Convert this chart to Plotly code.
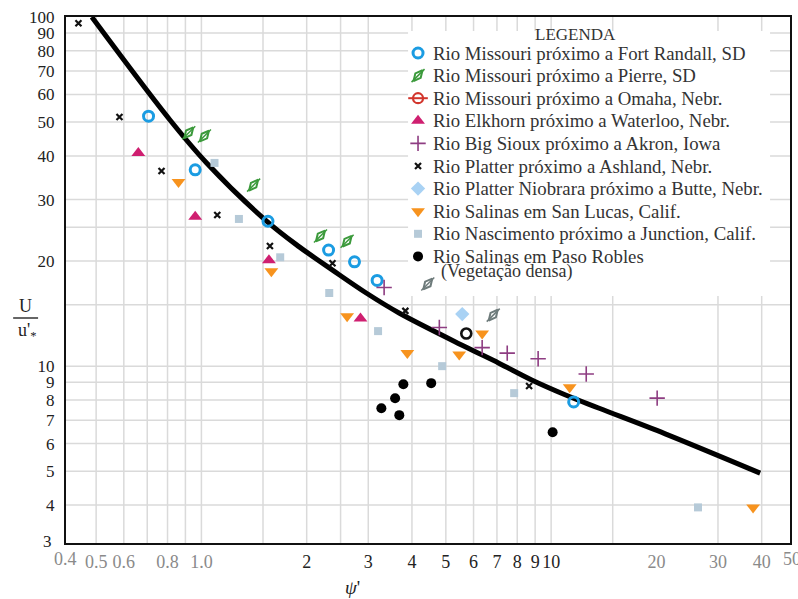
import numpy as np
import plotly.graph_objects as go

# ---------------- data ----------------
curve_x = [0.486, 0.812, 1.035, 1.545, 1.905, 2.366, 2.96, 3.675, 5.70, 7.09, 8.80, 11.0, 13.66, 21.2, 39.6]
curve_y = [100, 50.8, 38.2, 25.9, 21.96, 18.87, 16.2, 14.2, 11.35, 10.2, 9.13, 8.27, 7.59, 6.4, 4.94]

fort_randall_x = [0.706, 0.96, 1.55, 2.31, 2.74, 3.18, 11.6]
fort_randall_y = [52.0, 36.5, 26.0, 21.5, 19.9, 17.6, 7.9]

pierre_x = [0.92, 1.02, 1.41, 2.19, 2.61]
pierre_y = [46.6, 45.6, 33.0, 23.6, 22.8]

omaha_x = []
omaha_y = []

elkhorn_x = [0.66, 0.96, 1.56, 2.85]
elkhorn_y = [40.8, 26.8, 20.1, 13.7]

big_sioux_x = [3.33, 4.79, 6.35, 7.49, 9.18, 12.6, 20.1]
big_sioux_y = [16.8, 12.9, 11.3, 10.9, 10.5, 9.5, 8.1]

ashland_x = [0.445, 0.583, 0.769, 1.11, 1.57, 2.37, 3.83, 8.65]
ashland_y = [96, 51.7, 36.2, 27.1, 22.1, 19.7, 14.4, 8.77]

niobrara_x = [5.57]
niobrara_y = [14.1]

san_lucas_x = [0.86, 1.585, 2.61, 3.88, 5.46, 6.35, 11.3, 37.8]
san_lucas_y = [33.7, 18.7, 13.9, 10.9, 10.8, 12.4, 8.7, 3.94]

nascimento_x = [1.09, 1.28, 1.68, 2.32, 3.2, 4.88, 7.84, 26.3]
nascimento_y = [38.2, 26.4, 20.5, 16.2, 12.6, 10.0, 8.37, 3.94]

paso_robles_x = [3.27, 3.58, 3.78, 3.68, 4.54, 10.1]
paso_robles_y = [7.58, 8.09, 8.88, 7.24, 8.94, 6.47]

vegetacao_x = [4.44, 6.83]
vegetacao_y = [17.2, 14.0]

open_black_x = [5.72]
open_black_y = [12.4]

legend_names = [
    "Rio Missouri próximo a Fort Randall, SD",
    "Rio Missouri próximo a Pierre, SD",
    "Rio Missouri próximo a Omaha, Nebr.",
    "Rio Elkhorn próximo a Waterloo, Nebr.",
    "Rio Big Sioux próximo a Akron, Iowa",
    "Rio Platter próximo a Ashland, Nebr.",
    "Rio Platter Niobrara próximo a Butte, Nebr.",
    "Rio Salinas em San Lucas, Calif.",
    "Rio Nascimento próximo a Junction, Calif.",
    "Rio Salinas em Paso Robles",
]
legend_extra = "(Vegetação densa)"
legend_title = "LEGENDA"

x_grid = [0.5, 0.6, 0.7, 0.8, 0.9, 1, 1.5, 2, 2.5, 3, 4, 5, 6, 7, 8, 9, 10, 15, 30, 40]
x_ticks = [0.5, 0.6, 0.8, 1, 2, 3, 4, 5, 6, 7, 8, 9, 10, 20, 30, 40]
x_labels = ["0.5", "0.6", "0.8", "1.0", "2", "3", "4", "5", "6", "7", "8", "9", "10", "20", "30", "40"]
x_grey = ["0.4", "0.5", "0.6", "0.8", "1.0", "20", "30", "40", "50"]
y_grid = [4, 5, 6, 7, 8, 9, 10, 15, 20, 25, 30, 40, 50, 60, 70, 80, 90]
y_ticks = [4, 5, 6, 7, 8, 9, 10, 20, 30, 40, 50, 60, 70, 80, 90, 100]
y_labels = ["4", "5", "6", "7", "8", "9", "10", "20", "30", "40", "50", "60", "70", "80", "90", "100"]

# ---------------- layout constants ----------------
W, H = 798, 599
L, T, R, B = 66, 17, 6, 56
PW, PH = W - L - R, H - T - B
XR = [np.log10(0.41), np.log10(48.2)]
YR = [0.4935, 2.0]
SERIF = "Liberation Serif, Times New Roman, serif"
GREY_T = "#8a8a8a"
GRID_C = "#dadada"


def pp(px, py):
    return (px - L) / PW, (H - B - py) / PH


def mk(symbol, size, color, lw=0, lc=None, angle=0):
    return dict(symbol=symbol, size=size, color=color, angle=angle,
                line=dict(width=lw, color=lc if lc else color))


styles = {
    "fort": [mk("circle-open", 10, "#1b9ce2", 3)],
    "pierre": [mk("diamond-tall-open", 10, "#3c9a3c", 2, angle=40), mk("line-ne-open", 13, "#3c9a3c", 1.5)],
    "omaha": [mk("circle-open", 10, "#d2352c", 2.2), mk("line-ew-open", 14, "#d2352c", 2)],
    "elkhorn": [mk("triangle-up", 12, "#cf1f70")],
    "sioux": [mk("cross-thin-open", 11, "#8e3d82", 1.6)],
    "ashland": [mk("x-thin-open", 6, "#111111", 2.2)],
    "niobrara": [mk("diamond", 11, "#a9d2f4")],
    "sanlucas": [mk("triangle-down", 12, "#f7931e")],
    "nasc": [mk("square", 8, "#b6cad8")],
    "paso": [mk("circle", 10, "#000000")],
    "veg": [mk("diamond-tall-open", 10, "#6e7b7b", 2, angle=40), mk("line-ne-open", 13, "#6e7b7b", 1.5)],
    "openblack": [mk("circle-open", 10, "#111111", 2.6)],
}

series = [
    ("fort", fort_randall_x, fort_randall_y),
    ("pierre", pierre_x, pierre_y),
    ("omaha", omaha_x, omaha_y),
    ("elkhorn", elkhorn_x, elkhorn_y),
    ("sioux", big_sioux_x, big_sioux_y),
    ("ashland", ashland_x, ashland_y),
    ("niobrara", niobrara_x, niobrara_y),
    ("sanlucas", san_lucas_x, san_lucas_y),
    ("nasc", nascimento_x, nascimento_y),
    ("paso", paso_robles_x, paso_robles_y),
]

fig = go.Figure()

fig.add_trace(go.Scatter(x=curve_x, y=curve_y, mode="lines",
                         line=dict(color="#000000", width=5, shape="spline", smoothing=1.0),
                         showlegend=False, hoverinfo="skip"))

for key, xs, ys in series + [("veg", vegetacao_x, vegetacao_y), ("openblack", open_black_x, open_black_y)]:
    if not xs:
        continue
    for m in styles[key]:
        fig.add_trace(go.Scatter(x=xs, y=ys, mode="markers", marker=m, showlegend=False))

shapes = []
annotations = []

# grid lines (drawn as shapes so the legend panel can cover them)
for v in x_grid:
    shapes.append(dict(type="line", xref="x", yref="y domain", x0=v, x1=v, y0=0, y1=1,
                       line=dict(color=GRID_C, width=1.5), layer="below"))
for v in y_grid:
    shapes.append(dict(type="line", xref="x domain", yref="y", x0=0, x1=1, y0=v, y1=v,
                       line=dict(color=GRID_C, width=1.5), layer="below"))

# legend panel
bx0, by0 = pp(409, 296)
bx1, by1 = pp(772, 31)
shapes.append(dict(type="rect", xref="x domain", yref="y domain", x0=bx0, x1=bx1, y0=by0, y1=by1,
                   fillcolor="white", line=dict(width=0), layer="below"))

annotations.append(dict(x=pp(577, 34)[0], y=pp(577, 34)[1], xref="paper", yref="paper",
                        text=legend_title, showarrow=False, xanchor="center", yanchor="middle",
                        font=dict(family=SERIF, size=17, color="#333333")))

row0, step = 53, 22.6
for i, (key, _, _) in enumerate(series):
    py = row0 + i * step
    mx, my = pp(419, py)
    for m in styles[key]:
        fig.add_trace(go.Scatter(x=[mx], y=[my], xaxis="x2", yaxis="y2", mode="markers",
                                 marker=m, showlegend=False, hoverinfo="skip"))
    tx, ty = pp(432, py)
    annotations.append(dict(x=tx, y=ty, xref="paper", yref="paper", text=legend_names[i],
                            showarrow=False, xanchor="left", yanchor="middle",
                            font=dict(family=SERIF, size=18.8, color="#333333")))
ex, ey = pp(440, row0 + 9 * step + 15)
annotations.append(dict(x=ex, y=ey, xref="paper", yref="paper", text=legend_extra,
                        showarrow=False, xanchor="left", yanchor="middle",
                        font=dict(family=SERIF, size=18, color="#333333")))

# axis titles
ux, uy = pp(25, 306)
annotations.append(dict(x=ux, y=uy, xref="paper", yref="paper", text="U", showarrow=False,
                        xanchor="center", yanchor="middle", font=dict(family=SERIF, size=18, color="#222")))
ux, uy = pp(27, 331)
annotations.append(dict(x=ux, y=uy, xref="paper", yref="paper", text="u'<sub>*</sub>", showarrow=False,
                        xanchor="center", yanchor="middle", font=dict(family=SERIF, size=18, color="#222")))
lx0, ly = pp(13, 318)
lx1, _ = pp(38, 318)
shapes.append(dict(type="line", xref="paper", yref="paper", x0=lx0, x1=lx1, y0=ly, y1=ly,
                   line=dict(color="#333", width=1.5), layer="above"))
px_, py_ = pp(353, 587)
annotations.append(dict(x=px_, y=py_, xref="paper", yref="paper", text="<i>ψ</i>'", showarrow=False,
                        xanchor="center", yanchor="middle", font=dict(family=SERIF, size=19, color="#222")))

# tick labels that fall outside the axis range
for txt, px, py in [("0.4", 65, 559), ("50", 794, 559)]:
    ax_, ay_ = pp(px, py)
    annotations.append(dict(x=ax_, y=ay_, xref="paper", yref="paper",
                            text=txt, showarrow=False, xanchor="center", yanchor="middle",
                            font=dict(family=SERIF, size=18, color=GREY_T)))
ax_, ay_ = pp(54, 541)
annotations.append(dict(x=ax_, y=ay_, xref="paper", yref="paper", text="3", showarrow=False,
                        xanchor="right", yanchor="middle", font=dict(family=SERIF, size=17, color="#222")))


def tl(t):
    if t in x_grey:
        return f'<span style="color:{GREY_T}">{t}</span>'
    return t


fig.update_layout(
    width=W, height=H,
    margin=dict(l=L, r=R, t=T, b=B),
    paper_bgcolor="white", plot_bgcolor="white",
    showlegend=False,
    shapes=shapes, annotations=annotations,
    xaxis=dict(type="log", range=XR, tickvals=x_ticks, ticktext=[tl(t) for t in x_labels],
               showgrid=False, ticks="", ticklabelstandoff=1,
               showline=True, linecolor="#111", linewidth=2.2, mirror=True, zeroline=False,
               tickfont=dict(family=SERIF, size=18, color="#222")),
    yaxis=dict(type="log", range=YR, tickvals=y_ticks, ticktext=y_labels,
               showgrid=False, ticks="", ticklabelstandoff=6,
               showline=True, linecolor="#111", linewidth=2.2, mirror=True, zeroline=False,
               tickfont=dict(family=SERIF, size=17, color="#222")),
    xaxis2=dict(overlaying="x", anchor="y2", range=[0, 1], visible=False, fixedrange=True),
    yaxis2=dict(overlaying="y", anchor="x2", range=[0, 1], visible=False, fixedrange=True),
)

fig.write_html("out.html")
